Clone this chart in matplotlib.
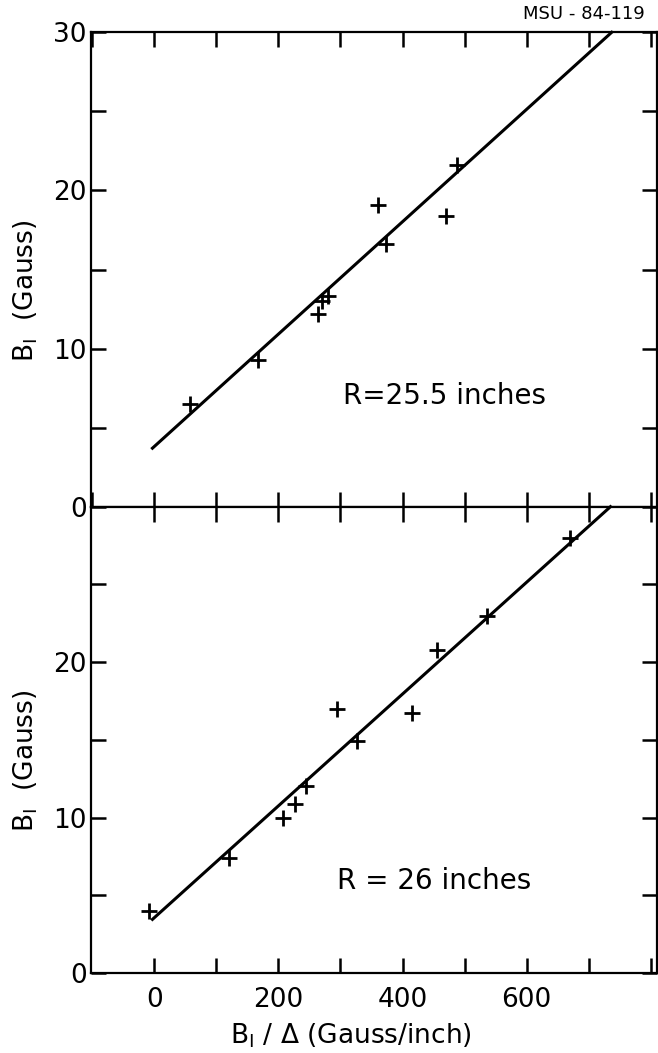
import numpy as np
import matplotlib
matplotlib.use('Agg')
import matplotlib.pyplot as plt
from matplotlib.ticker import MultipleLocator

# R = 25.5 inches
x_top = [58, 167, 263, 270, 280, 361, 373, 470, 488]
y_top = [6.5, 9.3, 12.2, 13.0, 13.3, 19.1, 16.6, 18.4, 21.6]
fit_top_x = [-3, 737]
fit_top_y = [3.7, 30.0]

# R = 26 inches
x_bot = [-8, 120, 207, 226, 244, 294, 327, 416, 455, 536, 670]
y_bot = [4.0, 7.4, 10.0, 10.9, 12.0, 17.0, 14.9, 16.7, 20.8, 23.0, 28.0]
fit_bot_x = [-3, 735]
fit_bot_y = [3.45, 30.0]

x_labels = [0, 200, 400, 600]
y_labels_top = [0, 10, 20, 30]
y_labels_bot = [0, 10, 20]

plt.rcParams['font.family'] = ['DejaVu Sans']
plt.rcParams['mathtext.fontset'] = 'dejavusans'

fig = plt.figure(figsize=(6.58, 10.53), dpi=100)
left = 91 / 658
width = 566 / 658
ax_top = fig.add_axes([left, 1 - 506.7 / 1053, width, 474.4 / 1053])
ax_bot = fig.add_axes([left, 1 - 973 / 1053, width, 466.3 / 1053])


def style_axis(ax, ylabels):
    ax.set_xlim(-102, 810)
    ax.set_ylim(0, 30)
    ax.xaxis.set_major_locator(MultipleLocator(100))
    ax.set_xticklabels([])
    ax.set_yticks(np.arange(0, 31, 5))
    ax.set_yticklabels([str(int(v)) if v in ylabels else '' for v in np.arange(0, 31, 5)])
    ax.tick_params(direction='in', length=11, width=1.8, top=True, right=True,
                   labelsize=19, pad=3)
    ax.tick_params(axis='x', pad=10)
    for sp in ax.spines.values():
        sp.set_linewidth(1.6)
    ax.set_ylabel(r'B$_\mathregular{I}$  (Gauss)', fontsize=19)
    ax.yaxis.set_label_coords(-0.09, 0.455)


style_axis(ax_top, y_labels_top)
style_axis(ax_bot, y_labels_bot)

ax_top.plot(fit_top_x, fit_top_y, color='black', lw=2.2, clip_on=False)
ax_top.plot(x_top, y_top, '+', color='black', ms=11, mew=2)
ax_top.text(304, 7.0, 'R=25.5 inches', fontsize=20, va='center', ha='left')

ax_bot.plot(fit_bot_x, fit_bot_y, color='black', lw=2.2, clip_on=False)
ax_bot.plot(x_bot, y_bot, '+', color='black', ms=11, mew=2, clip_on=False)
ax_bot.text(294, 5.9, 'R = 26 inches', fontsize=20, va='center', ha='left')

ax_bot.set_xticks(np.arange(0, 801, 100))
ax_bot.set_xticklabels([str(v) if v in x_labels else '' for v in np.arange(0, 801, 100)])
ax_bot.set_xlabel(r'B$_\mathregular{I}$ / $\Delta$ (Gauss/inch)', fontsize=19)
ax_bot.xaxis.set_label_coords(0.46, -0.105)

fig.text(645 / 658, 1 - 14 / 1053, 'MSU - 84-119', fontsize=13, ha='right', va='center')

fig.savefig('out.png', dpi=100)
